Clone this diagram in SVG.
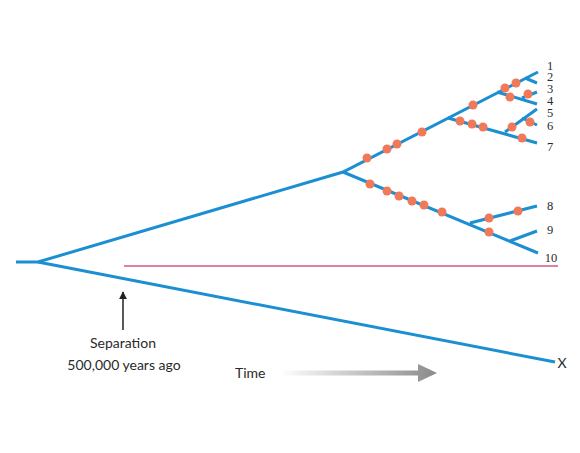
<svg xmlns="http://www.w3.org/2000/svg" width="580" height="453" viewBox="0 0 580 453">
<defs>
<style>
.br{stroke:#1b8fd2;stroke-width:3;fill:none;stroke-linecap:butt}
.dot{fill:#f0795a}
.lbl{font-family:Lato,"Open Sans",sans-serif;font-size:14px;fill:#2a2a2a}
.num{font-family:"Liberation Serif",serif;font-size:12.5px;fill:#2a2a2a;text-anchor:middle}
</style>
<linearGradient id="tg" x1="0" y1="0" x2="1" y2="0">
<stop offset="0" stop-color="#ffffff"/>
<stop offset="1" stop-color="#8a8a8a"/>
</linearGradient>
<marker id="ah" viewBox="0 0 10 10" refX="9" refY="5" markerWidth="8" markerHeight="8" markerUnits="userSpaceOnUse" orient="auto">
<path d="M0,0 L10,5 L0,10 Z" fill="#222"/>
</marker>
</defs>
<g id="connectors">
<path class="br" d="M16,262 H38 L343,172 L538,72"/>
<path class="br" d="M38,262 L555,362"/>
<path class="br" d="M343,172 L538,253"/>
<path class="br" d="M448,118 L537,143"/>
<path class="br" d="M505,132 L537,109"/>
<path class="br" d="M522,118 L537,125"/>
<path class="br" d="M497,92 L537,104"/>
<path class="br" d="M522,98 L537,92"/>
<path class="br" d="M525,78 L537,83"/>
<path class="br" d="M470,223 L537,206"/>
<path class="br" d="M510,241 L537,231"/>
<line x1="124" y1="266" x2="558" y2="266" stroke="#d35a7e" stroke-width="1.5"/>
<line x1="123" y1="330" x2="123" y2="292" stroke="#222" stroke-width="1.5" marker-end="url(#ah)"/>
</g>
<g id="mutations">
<circle class="dot" cx="367" cy="158" r="4.5"/>
<circle class="dot" cx="387" cy="149" r="4.5"/>
<circle class="dot" cx="397" cy="144" r="4.5"/>
<circle class="dot" cx="422" cy="132" r="4.5"/>
<circle class="dot" cx="473" cy="105" r="4.5"/>
<circle class="dot" cx="505" cy="88" r="4.5"/>
<circle class="dot" cx="516" cy="83" r="4.5"/>
<circle class="dot" cx="510" cy="97" r="4.5"/>
<circle class="dot" cx="528" cy="94" r="4.5"/>
<circle class="dot" cx="460" cy="121" r="4.5"/>
<circle class="dot" cx="472" cy="124" r="4.5"/>
<circle class="dot" cx="483" cy="127" r="4.5"/>
<circle class="dot" cx="522" cy="138" r="4.5"/>
<circle class="dot" cx="512" cy="127" r="4.5"/>
<circle class="dot" cx="530" cy="122" r="4.5"/>
<circle class="dot" cx="370" cy="184" r="4.5"/>
<circle class="dot" cx="387" cy="191" r="4.5"/>
<circle class="dot" cx="399" cy="196" r="4.5"/>
<circle class="dot" cx="412" cy="201" r="4.5"/>
<circle class="dot" cx="424" cy="205" r="4.5"/>
<circle class="dot" cx="442" cy="212" r="4.5"/>
<circle class="dot" cx="489" cy="232" r="4.5"/>
<circle class="dot" cx="489" cy="218" r="4.5"/>
<circle class="dot" cx="518" cy="211" r="4.5"/>
</g>
<g id="labels">
<text class="num" x="550" y="70">1</text>
<text class="num" x="550" y="81">2</text>
<text class="num" x="550" y="93">3</text>
<text class="num" x="550" y="105">4</text>
<text class="num" x="550" y="117">5</text>
<text class="num" x="550" y="130">6</text>
<text class="num" x="550" y="151">7</text>
<text class="num" x="550" y="210">8</text>
<text class="num" x="550" y="234">9</text>
<text class="num" x="551" y="262">10</text>
<text class="lbl" x="562" y="368" text-anchor="middle">X</text>
<text class="lbl" x="123" y="348" text-anchor="middle">Separation</text>
<text class="lbl" x="124" y="370" text-anchor="middle">500,000 years ago</text>
<text class="lbl" x="235" y="378">Time</text>
</g>
<g id="time-arrow">
<path d="M280,370.5 H418 V364 L437,373 L418,382 V375.5 H280 Z" fill="url(#tg)"/>
</g>
</svg>
